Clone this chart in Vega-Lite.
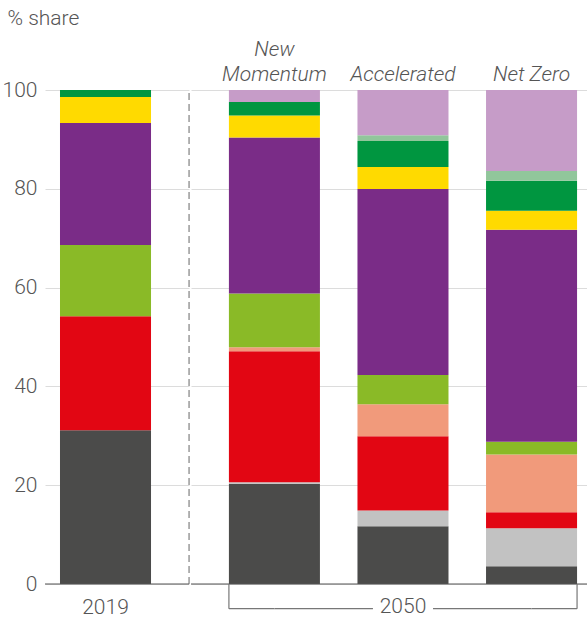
{
  "$schema": "https://vega.github.io/schema/vega-lite/v6.json",
  "padding": {"left": 2, "top": 7, "right": 0, "bottom": 0},
  "spacing": 0,
  "config": {
    "view": {"stroke": null},
    "font": "Roboto",
    "axis": {"labelFont": "Roboto", "labelFontWeight": 300, "labelColor": "#555555", "labelFontSize": 21, "gridColor": "#dcdcdc", "gridWidth": 1},
    "text": {"font": "Roboto", "fontWeight": 300, "color": "#555555", "fontSize": 21}
  },
  "resolve": {"scale": {"x": "independent", "y": "independent"}},
  "datasets": {
    "shares": [
      {"scenario": "2019", "source": "Coal", "k": 1, "share": 31.1},
      {"scenario": "2019", "source": "Natural gas", "k": 3, "share": 23.1},
      {"scenario": "2019", "source": "Oil", "k": 5, "share": 14.4},
      {"scenario": "2019", "source": "Electricity", "k": 6, "share": 24.7},
      {"scenario": "2019", "source": "Bioenergy", "k": 7, "share": 5.3},
      {"scenario": "2019", "source": "Heat", "k": 8, "share": 1.4},
      {"scenario": "New Momentum", "source": "Coal", "k": 1, "share": 20.3},
      {"scenario": "New Momentum", "source": "Coal with CCUS", "k": 2, "share": 0.3},
      {"scenario": "New Momentum", "source": "Natural gas", "k": 3, "share": 26.5},
      {"scenario": "New Momentum", "source": "Natural gas with CCUS", "k": 4, "share": 0.8},
      {"scenario": "New Momentum", "source": "Oil", "k": 5, "share": 10.9},
      {"scenario": "New Momentum", "source": "Electricity", "k": 6, "share": 31.6},
      {"scenario": "New Momentum", "source": "Bioenergy", "k": 7, "share": 4.45},
      {"scenario": "New Momentum", "source": "Heat", "k": 8, "share": 2.7},
      {"scenario": "New Momentum", "source": "Hydrogen", "k": 10, "share": 2.45},
      {"scenario": "Accelerated", "source": "Coal", "k": 1, "share": 11.7},
      {"scenario": "Accelerated", "source": "Coal with CCUS", "k": 2, "share": 3.2},
      {"scenario": "Accelerated", "source": "Natural gas", "k": 3, "share": 15.0},
      {"scenario": "Accelerated", "source": "Natural gas with CCUS", "k": 4, "share": 6.5},
      {"scenario": "Accelerated", "source": "Oil", "k": 5, "share": 5.9},
      {"scenario": "Accelerated", "source": "Electricity", "k": 6, "share": 37.65},
      {"scenario": "Accelerated", "source": "Bioenergy", "k": 7, "share": 4.45},
      {"scenario": "Accelerated", "source": "Heat", "k": 8, "share": 5.26},
      {"scenario": "Accelerated", "source": "Other", "k": 9, "share": 1.2},
      {"scenario": "Accelerated", "source": "Hydrogen", "k": 10, "share": 9.14},
      {"scenario": "Net Zero", "source": "Coal", "k": 1, "share": 3.6},
      {"scenario": "Net Zero", "source": "Coal with CCUS", "k": 2, "share": 7.7},
      {"scenario": "Net Zero", "source": "Natural gas", "k": 3, "share": 3.2},
      {"scenario": "Net Zero", "source": "Natural gas with CCUS", "k": 4, "share": 11.7},
      {"scenario": "Net Zero", "source": "Oil", "k": 5, "share": 2.6},
      {"scenario": "Net Zero", "source": "Electricity", "k": 6, "share": 42.9},
      {"scenario": "Net Zero", "source": "Bioenergy", "k": 7, "share": 3.85},
      {"scenario": "Net Zero", "source": "Heat", "k": 8, "share": 6.07},
      {"scenario": "Net Zero", "source": "Other", "k": 9, "share": 2.0},
      {"scenario": "Net Zero", "source": "Hydrogen", "k": 10, "share": 16.38}
    ],
    "one": [{}]
  },
  "hconcat": [
    {
      "width": 144,
      "height": 494,
      "layer": [
        {
          "data": {"name": "shares"},
          "transform": [{"filter": "datum.scenario === '2019'"}],
          "mark": {"type": "bar"},
          "encoding": {
            "x": {"field": "scenario", "type": "nominal", "scale": {"paddingInner": 0, "paddingOuter": 0.291, "align": 0.283},
                  "axis": {"orient": "bottom", "title": null, "ticks": false, "domain": false, "labelAngle": 0, "labelPadding": 12}},
            "y": {"field": "share", "type": "quantitative", "stack": "zero", "scale": {"domain": [0, 100], "nice": false},
                  "axis": {"title": "% share", "titleAngle": 0, "titleAlign": "left", "titleBaseline": "middle", "titleX": -38, "titleY": -72,
                           "titleFont": "Roboto", "titleFontSize": 21, "titleFontWeight": 300, "titleColor": "#555555",
                           "values": [0, 20, 40, 60, 80, 100], "grid": true, "ticks": false, "domain": false, "labelPadding": 8}},
            "color": {"field": "source", "type": "nominal", "legend": null,
                      "scale": {"domain": ["Coal", "Coal with CCUS", "Natural gas", "Natural gas with CCUS", "Oil", "Electricity", "Bioenergy", "Heat", "Other", "Hydrogen"],
                                "range": ["#4b4b4a", "#c2c2c2", "#e20613", "#f19a7b", "#8aba27", "#7a2c87", "#ffda00", "#009640", "#91c69b", "#c69cc8"]}},
            "order": {"field": "k", "type": "quantitative"}
          }
        },
        {
          "data": {"name": "one"},
          "mark": {"type": "rule", "color": "#9a9a9a", "strokeDash": [7, 4], "strokeWidth": 1.5},
          "encoding": {
            "x": {"datum": "2019", "type": "nominal", "bandPosition": 1.418},
            "y": {"datum": 0, "type": "quantitative"},
            "y2": {"datum": 100}
          }
        },
        {
          "data": {"name": "one"},
          "mark": {"type": "rule", "color": "#555555", "strokeWidth": 1.2},
          "encoding": {"y": {"datum": 0, "type": "quantitative"}}
        }
      ]
    },
    {
      "width": 397,
      "height": 494,
      "layer": [
        {
          "data": {"name": "shares"},
          "transform": [{"filter": "datum.scenario !== '2019'"}],
          "mark": {"type": "bar"},
          "encoding": {
            "x": {"field": "scenario", "type": "nominal", "sort": ["New Momentum", "Accelerated", "Net Zero"],
                  "scale": {"paddingInner": 0.292, "paddingOuter": 0.19, "align": 0.776},
                  "axis": {"orient": "top", "title": null, "ticks": false, "domain": false, "labelAngle": 0,
                           "labelPadding": {"condition": {"test": "datum.value === 'New Momentum'", "value": 31}, "value": 6},
                           "labelFontStyle": "italic", "labelLineHeight": 25,
                           "labelExpr": "datum.label == 'New Momentum' ? ['New', 'Momentum'] : datum.label"}},
            "y": {"field": "share", "type": "quantitative", "stack": "zero", "scale": {"domain": [0, 100], "nice": false},
                  "axis": {"title": null, "labels": false, "ticks": false, "domain": false, "grid": true, "values": [0, 20, 40, 60, 80, 100]}},
            "color": {"field": "source", "type": "nominal", "legend": null,
                      "scale": {"domain": ["Coal", "Coal with CCUS", "Natural gas", "Natural gas with CCUS", "Oil", "Electricity", "Bioenergy", "Heat", "Other", "Hydrogen"],
                                "range": ["#4b4b4a", "#c2c2c2", "#e20613", "#f19a7b", "#8aba27", "#7a2c87", "#ffda00", "#009640", "#91c69b", "#c69cc8"]}},
            "order": {"field": "k", "type": "quantitative"}
          }
        },
        {
          "data": {"name": "one"},
          "mark": {"type": "rule", "color": "#555555", "strokeWidth": 1.2},
          "encoding": {"y": {"datum": 0, "type": "quantitative"}}
        },
        {
          "data": {"name": "one"},
          "mark": {"type": "rule", "color": "#777777", "strokeWidth": 1.2},
          "encoding": {
            "x": {"datum": "New Momentum", "type": "nominal", "bandPosition": 0},
            "y": {"datum": 0, "type": "quantitative"},
            "y2": {"datum": -5}
          }
        },
        {
          "data": {"name": "one"},
          "mark": {"type": "rule", "color": "#777777", "strokeWidth": 1.2},
          "encoding": {
            "x": {"datum": "Net Zero", "type": "nominal", "bandPosition": 1},
            "y": {"datum": 0, "type": "quantitative"},
            "y2": {"datum": -5}
          }
        },
        {
          "data": {"name": "one"},
          "mark": {"type": "rule", "color": "#777777", "strokeWidth": 1.2},
          "encoding": {
            "x": {"datum": "New Momentum", "type": "nominal", "bandPosition": 0},
            "x2": {"datum": "New Momentum"},
            "y": {"datum": -5, "type": "quantitative"}
          }
        },
        {
          "data": {"name": "one"},
          "mark": {"type": "rule", "color": "#777777", "strokeWidth": 1.2},
          "encoding": {
            "x": {"datum": "Accelerated", "type": "nominal", "bandPosition": 0.17},
            "x2": {"datum": "New Momentum"},
            "y": {"datum": -5, "type": "quantitative"}
          }
        },
        {
          "data": {"name": "one"},
          "mark": {"type": "rule", "color": "#777777", "strokeWidth": 1.2},
          "encoding": {
            "x": {"datum": "Accelerated", "type": "nominal", "bandPosition": 0.83},
            "x2": {"datum": "Net Zero"},
            "y": {"datum": -5, "type": "quantitative"}
          }
        },
        {
          "data": {"name": "one"},
          "mark": {"type": "rule", "color": "#777777", "strokeWidth": 1.2},
          "encoding": {
            "x": {"datum": "Net Zero", "type": "nominal", "bandPosition": 1},
            "x2": {"datum": "Net Zero"},
            "y": {"datum": -5, "type": "quantitative"}
          }
        },
        {
          "data": {"name": "one"},
          "mark": {"type": "text", "baseline": "middle", "align": "center"},
          "encoding": {
            "x": {"datum": "Accelerated", "type": "nominal", "bandPosition": 0.5},
            "y": {"datum": -4.6, "type": "quantitative"},
            "text": {"value": "2050"}
          }
        }
      ]
    }
  ]
}
